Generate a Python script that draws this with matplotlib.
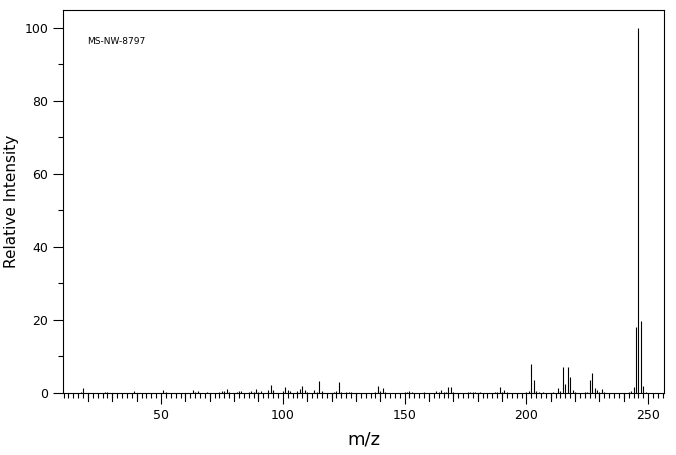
import numpy as np
import matplotlib.pyplot as plt
from matplotlib.ticker import MultipleLocator

# peak list (m/z, relative intensity)
mz = [17, 18, 27, 28, 39, 51, 52, 63, 64, 65, 69, 74, 75, 76, 77, 78,
      81, 82, 83, 86, 87, 88, 89, 90, 91, 94, 95, 96, 100, 101, 102, 103,
      106, 107, 108, 109, 110, 113, 114, 115, 116, 121, 122, 123, 124,
      126, 127, 128, 138, 139, 140, 141, 142, 150, 151, 152, 153, 158,
      163, 164, 165, 166, 167, 168, 169, 170, 176, 177, 178, 179, 181,
      187, 188, 189, 190, 191, 192, 200, 201, 202, 203, 204, 205, 207,
      211, 213, 214, 215, 216, 217, 218, 219, 220, 224, 225, 226, 227,
      228, 229, 230, 231, 232, 242, 243, 244, 245, 246, 247, 248, 249]
intensity = [0.3, 1.4, 0.3, 0.3, 0.5, 0.8, 0.3, 0.8, 0.3, 0.6, 0.3, 0.3, 0.5, 0.6, 1.1, 0.3,
             0.3, 0.5, 0.5, 0.4, 0.5, 0.3, 1.0, 0.3, 0.5, 0.7, 2.2, 0.7, 0.6, 1.6, 0.7, 0.5,
             0.5, 1.0, 2.0, 0.8, 0.3, 0.8, 0.4, 3.3, 0.6, 0.4, 0.5, 3.0, 0.4,
             0.2, 0.2, 0.2, 0.2, 2.0, 0.5, 1.4, 0.3, 0.3, 0.3, 0.5, 0.3, 0.2,
             0.5, 0.3, 0.7, 0.3, 0.3, 1.6, 1.6, 0.3, 0.4, 0.2, 0.4, 0.2, 0.2,
             0.3, 0.3, 1.6, 0.4, 0.7, 0.3, 0.3, 0.5, 8.0, 3.5, 0.6, 0.3, 0.3,
             0.3, 1.3, 0.5, 7.2, 2.6, 7.2, 4.3, 0.7, 0.3, 0.3, 0.3, 3.5, 5.5,
             1.3, 0.8, 0.3, 1.0, 0.2, 0.3, 0.6, 1.6, 18.2, 100, 19.6, 2.0, 0.4]

label = "MS-NW-8797"

fig = plt.figure(figsize=(6.76, 4.55), dpi=100)
ax = fig.add_axes([63 / 676, 1 - 393 / 455, 601 / 676, 383 / 455])

ax.vlines(mz, 0, intensity, color='black', linewidth=0.8)

ax.set_xlim(9.75, 256.5)
ax.set_ylim(0, 104.9)

# x ticks: every 2, medium every 10, labels every 50
ax.xaxis.set_major_locator(MultipleLocator(50))
ax.xaxis.set_minor_locator(MultipleLocator(2))
ax.tick_params(axis='x', which='major', direction='out', length=8, width=0.8, labelsize=9)
ax.tick_params(axis='x', which='minor', direction='out', length=3.6, width=0.8)
for m in range(20, 260, 10):
    if m % 50:
        ax.plot([m, m], [0, -5.8 / 72 * 100 / 3.65], color='black', linewidth=0.8,
                clip_on=False)

ax.yaxis.set_major_locator(MultipleLocator(20))
ax.yaxis.set_minor_locator(MultipleLocator(10))
ax.tick_params(axis='y', which='major', direction='out', length=7, width=0.8, labelsize=9)
ax.tick_params(axis='y', which='minor', direction='out', length=3.6, width=0.8)
ax.tick_params(top=False, right=False)

for s in ax.spines.values():
    s.set_linewidth(0.8)

ax.set_xlabel('m/z', fontsize=13, labelpad=6)
ax.set_ylabel('Relative Intensity', fontsize=11, labelpad=4)

ax.text(0.04, 0.919, label, transform=ax.transAxes, fontsize=6.5, va='center', ha='left')

fig.savefig('out.png', dpi=100)
